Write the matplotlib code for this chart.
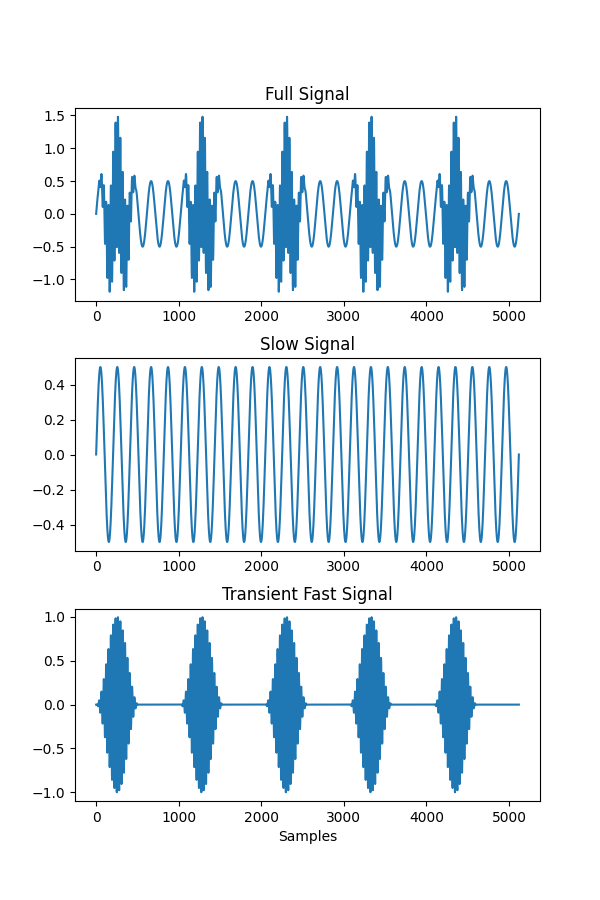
import numpy as np
import matplotlib.pyplot as plt

# Signal parameters
n_samples = 5120
slow_amp = 0.5
slow_cycles = 25          # cycles over the whole record
burst_len = 512           # samples per fast burst
burst_period = 1024       # a burst every 1024 samples
fast_freq = 0.035         # cycles per sample
n_bursts = 5

t = np.arange(0, n_samples + 1)
slow = slow_amp * np.sin(2 * np.pi * slow_cycles * t / n_samples)
fast = np.zeros_like(t, dtype=float)
for k in range(n_bursts):
    start = k * burst_period
    m = (t >= start) & (t < start + burst_len)
    local = t[m] - start
    env = 0.5 - 0.5 * np.cos(2 * np.pi * local / burst_len)
    fast[m] = env * np.sin(2 * np.pi * fast_freq * local)
full = slow + fast

fig, axes = plt.subplots(3, 1, figsize=(6, 9))
fig.subplots_adjust(hspace=0.3)

axes[0].plot(t, full)
axes[0].set_title("Full Signal")
axes[1].plot(t, slow)
axes[1].set_title("Slow Signal")
axes[2].plot(t, fast)
axes[2].set_title("Transient Fast Signal")
axes[2].set_xlabel("Samples")

plt.savefig("out.png", dpi=100)
